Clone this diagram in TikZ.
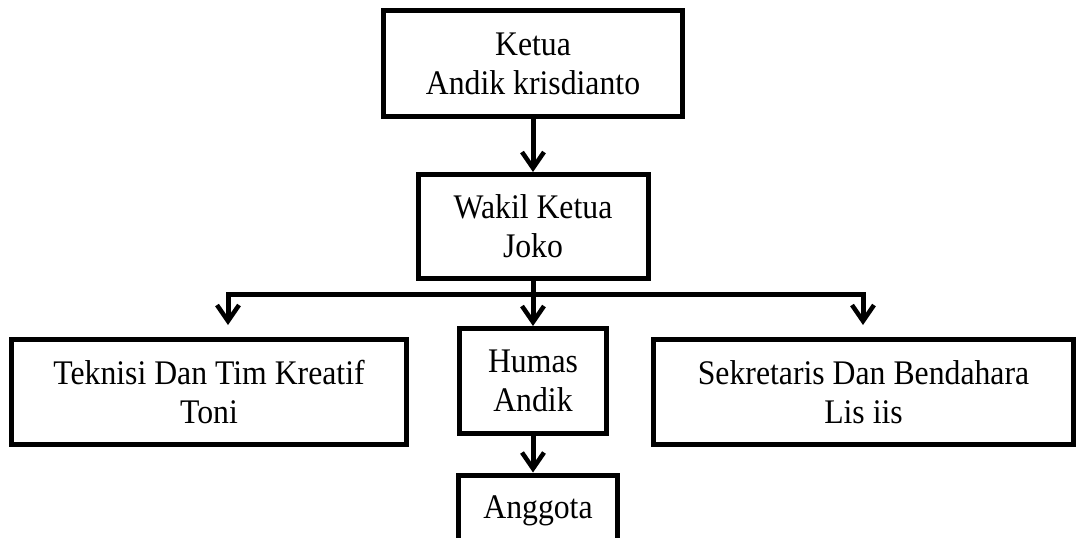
\documentclass[tikz,border=0pt]{standalone}
\usepackage{fontspec}
\setmainfont{Liberation Serif}[FakeStretch=0.92]
\usetikzlibrary{arrows.meta,positioning}

\begin{document}
\begin{tikzpicture}[x=1pt,y=-1pt,line width=5pt,>={Straight Barb[length=16pt,width=22pt,line width=4.5pt]},
  box/.style={draw,align=center,inner sep=0pt,font=\fontsize{34.5}{39}\selectfont}]
  \useasboundingbox (0,0) rectangle (1080,538);
  \node[box,minimum width=299pt,minimum height=106pt] (ketua) at (533,63.5) {Ketua\\Andik krisdianto};
  \node[box,minimum width=230pt,minimum height=104pt] (wakil) at (533,226.5) {Wakil Ketua\\Joko};
  \node[box,minimum width=395pt,minimum height=105pt] (teknisi) at (209,392) {Teknisi Dan Tim Kreatif\\Toni};
  \node[box,minimum width=147pt,minimum height=105pt] (humas) at (533,381) {Humas\\Andik};
  \node[box,minimum width=420pt,minimum height=105pt] (sekretaris) at (863.5,392) {Sekretaris Dan Bendahara\\Lis iis};
  \node[box,minimum width=159pt,minimum height=72pt] (anggota) at (538,511) {Anggota};
  \coordinate (bl) at (228,294);
  \coordinate (br) at (863,294);
\draw[->] (ketua.south) -- (wakil.north);
\draw[->] (wakil.south) -- (humas.north);
\draw[line cap=rect] (bl) -- (br);
\draw[->,shorten >=12pt] (bl) -- (bl |- teknisi.north);
\draw[->,shorten >=12pt] (br) -- (br |- sekretaris.north);
\draw[->] (humas.south) -- (humas.south |- anggota.north);
\end{tikzpicture}
\end{document}
